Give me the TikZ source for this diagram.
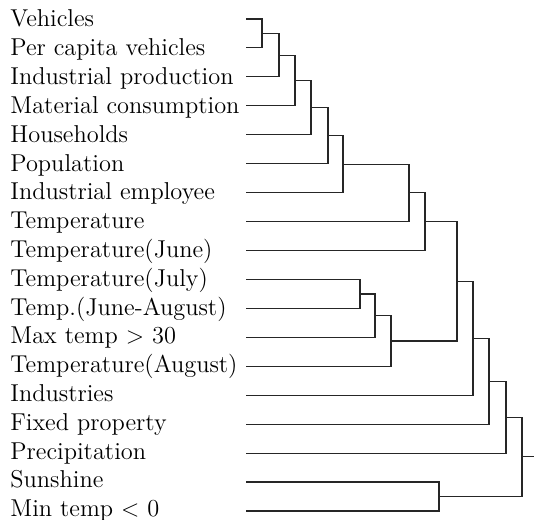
\documentclass[tikz,border=0pt]{standalone}
\usepackage{tikz}

\tikzset{
  leaf/.style={anchor=base west, inner sep=0pt, font=\fontsize{12.2}{15}\selectfont},
  link/.style={black!85, line width=0.55pt}
}

\begin{document}
\begin{tikzpicture}[x=0.5pt,y=-0.5pt]
            \useasboundingbox (0,0) rectangle (534,519);

            % labels
            \node[leaf] (l1) at (10,27){Vehicles};
            \node[leaf] (l2) at (10,55.8){Per capita vehicles};
            \node[leaf] (l3) at (10,84.6){Industrial production};
            \node[leaf] (l4) at (10,113.4){Material consumption};
            \node[leaf] (l5) at (10,142.2){Households};
            \node[leaf] (l6) at (10,171){Population};
            \node[leaf] (l7) at (10,199.8){Industrial employee};
            \node[leaf] (l8) at (10,228.6){Temperature};
            \node[leaf] (l9) at (10,257.4){Temperature(June)};
            \node[leaf] (l10) at (10,286.2){Temperature(July)};
            \node[leaf] (l11) at (10,315){Temp.(June-August)};
            \node[leaf] (l12) at (10,343.8){Max temp $>$ 30};
            \node[leaf] (l13) at (10,372.6){Temperature(August)};
            \node[leaf] (l14) at (10,401.4){Industries};
            \node[leaf] (l15) at (10,430.2){Fixed property};
            \node[leaf] (l16) at (10,459){Precipitation};
            \node[leaf] (l17) at (10,487.8){Sunshine};
            \node[leaf] (l18) at (10,516.6){Min temp $<$ 0};

            % leaf ends
            \coordinate (v1) at (246,19);
            \coordinate (v2) at (246,47.9);
            \coordinate (v3) at (246,76.9);
            \coordinate (v4) at (246,105.8);
            \coordinate (v5) at (246,134.8);
            \coordinate (v6) at (246,163.7);
            \coordinate (v7) at (246,192.6);
            \coordinate (v8) at (246,221.6);
            \coordinate (v9) at (246,250.5);
            \coordinate (v10) at (246,279.5);
            \coordinate (v11) at (246,308.4);
            \coordinate (v12) at (246,337.3);
            \coordinate (v13) at (246,366.3);
            \coordinate (v14) at (246,395.2);
            \coordinate (v15) at (246,424.2);
            \coordinate (v16) at (246,453.1);
            \coordinate (v17) at (246,482);
            \coordinate (v18) at (246,511);

            % merges
            \coordinate (m1) at (262,33.5);
            \coordinate (m2) at (279,55.2);
            \coordinate (m3) at (295,80.5);
            \coordinate (m4) at (311,107.6);
            \coordinate (m5) at (328,135.7);
            \coordinate (m6) at (343,164.2);
            \coordinate (m7) at (409,192.9);
            \coordinate (m8) at (425,221.7);
            \coordinate (m9) at (360,294);
            \coordinate (m10) at (375,315.6);
            \coordinate (m11) at (391,341);
            \coordinate (m12) at (457,281.3);
            \coordinate (m13) at (473,338.3);
            \coordinate (m14) at (489,381.2);
            \coordinate (m15) at (506,417.2);
            \coordinate (m16) at (439,496.5);
            \coordinate (m17) at (522,456.8);
            \coordinate (root) at (534,456.8);

            \draw[link] (v1) -| (m1) |- (v2);
            \draw[link] (m1) -| (m2) |- (v3);
            \draw[link] (m2) -| (m3) |- (v4);
            \draw[link] (m3) -| (m4) |- (v5);
            \draw[link] (m4) -| (m5) |- (v6);
            \draw[link] (m5) -| (m6) |- (v7);
            \draw[link] (m6) -| (m7) |- (v8);
            \draw[link] (m7) -| (m8) |- (v9);
            \draw[link] (v10) -| (m9) |- (v11);
            \draw[link] (m9) -| (m10) |- (v12);
            \draw[link] (m10) -| (m11) |- (v13);
            \draw[link] (m8) -| (m12) |- (m11);
            \draw[link] (m12) -| (m13) |- (v14);
            \draw[link] (m13) -| (m14) |- (v15);
            \draw[link] (m14) -| (m15) |- (v16);
            \draw[link] (v17) -| (m16) |- (v18);
            \draw[link] (m15) -| (m17) |- (m16);
            \draw[link] (m17) -- (root);
\end{tikzpicture}
\end{document}
